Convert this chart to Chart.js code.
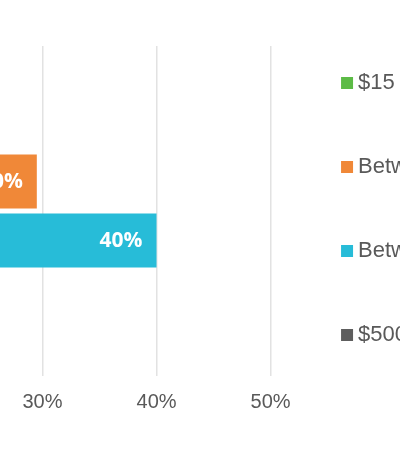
<!DOCTYPE html>
<html>
<head>
<meta charset="utf-8">
<script src="https://cdn.jsdelivr.net/npm/chart.js@4/dist/chart.umd.min.js"></script>
<style>
  html, body { margin: 0; padding: 0; background: #fff; }
  /* the reference only shows the right part of a wider chart */
  .crop { position: relative; width: 400px; height: 454px; overflow: hidden; }
  .crop canvas { position: absolute; left: -329px; top: 0; }
</style>
</head>
<body>
<div class="crop">
  <canvas id="chart" width="800" height="454"></canvas>
</div>
<script>
/* ===== DATA ===== */
const categories = [""];
const seriesNames = ["$15 or less", "Between $15 and $100", "Between $100 and $500", "$500 or more"];
const seriesColors = ["#5cbb46", "#f08838", "#27bcd8", "#5e5e5e"];
const seriesValues = [[18], [29.5], [40], [9]];
const xTicks = [0, 10, 20, 30, 40, 50];

const TEXT = "#595959";

/* value labels drawn at the inside end of each bar */
const barLabels = {
  id: "barLabels",
  afterDatasetsDraw(chart) {
    const ctx = chart.ctx;
    ctx.save();
    ctx.font = 'bold 21px "Open Sans"';
    ctx.fillStyle = "#ffffff";
    ctx.textAlign = "right";
    ctx.textBaseline = "middle";
    chart.data.datasets.forEach((ds, i) => {
      chart.getDatasetMeta(i).data.forEach((bar, j) => {
        ctx.fillText(Math.round(ds.data[j]) + "%", bar.x - 14, bar.y + 1);
      });
    });
    ctx.restore();
  }
};

new Chart(document.getElementById("chart"), {
  type: "bar",
  data: {
    labels: categories,
    datasets: seriesNames.map((name, i) => ({
      label: name,
      data: seriesValues[i],
      backgroundColor: seriesColors[i],
      borderWidth: 0,
      pointStyle: "rect",
      categoryPercentage: 0.715,
      barPercentage: 0.915
    }))
  },
  options: {
    indexAxis: "y",
    responsive: false,
    animation: false,
    layout: { padding: { left: 29.5, right: 36, top: 4, bottom: 40 } },
    scales: {
      x: {
        min: xTicks[0],
        max: 51.27,
        afterBuildTicks: axis => { axis.ticks = xTicks.map(v => ({ value: v })); },
        afterFit: axis => { axis.height = 38; },
        ticks: {
          includeBounds: false,
          padding: 14,
          color: TEXT,
          font: { family: '"Liberation Sans", Arial, sans-serif', size: 20 },
          callback: v => v + "%"
        },
        grid: { color: "#e2e2e2", lineWidth: 1.5, drawTicks: false },
        border: { display: false }
      },
      y: { display: false }
    },
    plugins: {
      title: { display: true, text: "", font: { size: 12, lineHeight: 1 }, padding: { top: 30, bottom: 0 } },
      legend: {
        position: "right",
        maxWidth: 150,
        labels: {
          usePointStyle: true,
          boxWidth: 0.1,
          boxHeight: 12,
          padding: 62,
          color: TEXT,
          font: { family: '"Liberation Sans", Arial, sans-serif', size: 22 }
        }
      },
      tooltip: { enabled: false }
    }
  },
  plugins: [barLabels]
});
</script>
</body>
</html>
